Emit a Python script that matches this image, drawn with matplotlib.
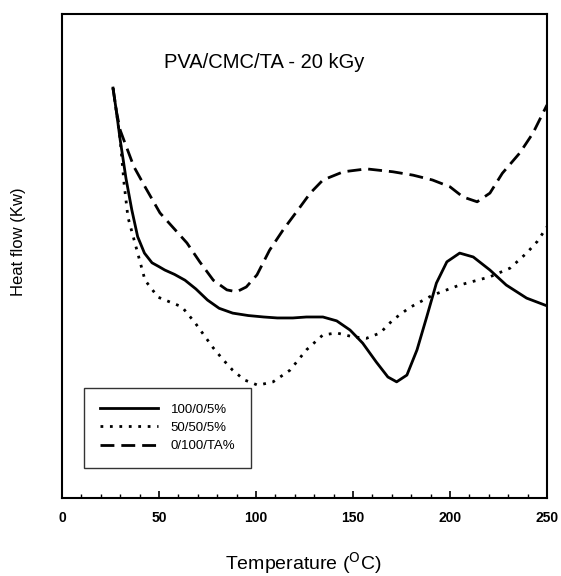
import matplotlib
matplotlib.use('Agg')
import matplotlib.pyplot as plt
from matplotlib.ticker import MultipleLocator

plt.rcParams['font.family'] = ['Liberation Sans', 'DejaVu Sans']

# 100/0/5%
t_solid = [26.3, 28, 30, 33, 36, 39, 42.5, 46.4, 50, 53, 58, 63.4, 69, 75, 81, 88, 96,
           104, 111, 119, 126, 134.5, 141.6, 148.5, 155, 162, 168, 172.5, 177.8, 183,
           188, 193, 198.4, 205, 212, 220.6, 229, 239.5, 250]
v_solid = [84.7, 80.0, 74.0, 66.0, 59.5, 54.0, 50.6, 48.6, 47.8, 47.1, 46.2, 45.0, 43.2,
           40.9, 39.2, 38.2, 37.7, 37.4, 37.2, 37.2, 37.4, 37.4, 36.6, 34.7, 32.0, 28.1,
           25.0, 24.0, 25.4, 30.6, 37.4, 44.4, 48.8, 50.6, 49.8, 47.1, 44.0, 41.3, 39.7]

# 50/50/5%
t_dot = [26.3, 28, 30, 32, 34, 37.6, 42.8, 49.5, 55, 61.8, 68.6, 74, 78, 83, 88, 94,
         101, 108.8, 117.5, 126, 134.5, 141.6, 150, 157, 164, 170.6, 179, 191, 205,
         220.6, 231, 239.5, 245, 250]
v_dot = [84.7, 80.0, 74.0, 65.0, 58.0, 52.7, 45.0, 41.5, 40.6, 39.5, 36.2, 33.2, 31.0,
         28.6, 26.4, 24.4, 23.3, 24.0, 26.4, 30.6, 33.7, 34.1, 33.3, 33.0, 34.1, 36.8,
         39.3, 41.9, 44.0, 45.7, 47.5, 50.6, 53.0, 56.0]

# 0/100/TA%
t_dash = [26.3, 28, 30, 32.5, 37, 42.8, 50.5, 57, 64.4, 71, 78, 85, 90, 95, 100.5, 107,
          114, 122.7, 128, 134.5, 145, 157, 170.6, 181, 191, 200, 206.7, 214, 220.6,
          227, 236, 242.8, 250]
v_dash = [84.7, 80.0, 76.0, 73.3, 68.5, 64.3, 58.9, 56.0, 52.7, 48.8, 45.0, 43.0, 42.6,
          43.6, 46.1, 51.2, 55.4, 60.1, 63.0, 65.7, 67.4, 68.0, 67.4, 66.7, 65.7, 64.3,
          62.2, 61.2, 63.0, 67.1, 71.3, 75.4, 81.2]

fig = plt.figure(figsize=(5.61, 5.76), dpi=100)
ax = fig.add_axes([0.1105, 0.1354, 0.8645, 0.8403])

ax.plot(t_solid, v_solid, color='black', lw=2.0, ls='-', label='100/0/5%')
ax.plot(t_dot, v_dot, color='black', lw=2.0, ls=(0, (1, 2.4)), label='50/50/5%')
ax.plot(t_dash, v_dash, color='black', lw=2.0, ls=(0, (5, 2.5)), label='0/100/TA%')

ax.set_xlim(0, 250)
ax.set_ylim(0, 100)
ax.set_yticks([])
ax.xaxis.set_major_locator(MultipleLocator(50))
ax.xaxis.set_minor_locator(MultipleLocator(10))
ax.tick_params(axis='x', which='major', direction='in', length=5, width=1.2,
               labelsize=10, pad=9)
ax.tick_params(axis='x', which='minor', direction='in', length=3, width=1)
for lab in ax.get_xticklabels():
    lab.set_fontweight('bold')
for s in ax.spines.values():
    s.set_linewidth(1.5)

ax.text(0.416, 0.899, 'PVA/CMC/TA - 20 kGy', transform=ax.transAxes,
        ha='center', va='center', fontsize=14.5)
ax.set_xlabel('Temperature ($^{\\mathrm{O}}$C)', fontsize=14)
ax.xaxis.set_label_coords(0.497, -0.107)
ax.set_ylabel('Heat flow (Kw)', fontsize=12)
ax.yaxis.set_label_coords(-0.074, 0.53)

leg = ax.legend(loc='lower left', bbox_to_anchor=(0.045, 0.062), fontsize=9.5,
                frameon=True, fancybox=False, edgecolor='black', handlelength=4.4,
                borderpad=1.2, labelspacing=0.45, handletextpad=1.0,
                borderaxespad=0)
leg.get_frame().set_linewidth(1.0)

fig.savefig('out.png', dpi=100)
